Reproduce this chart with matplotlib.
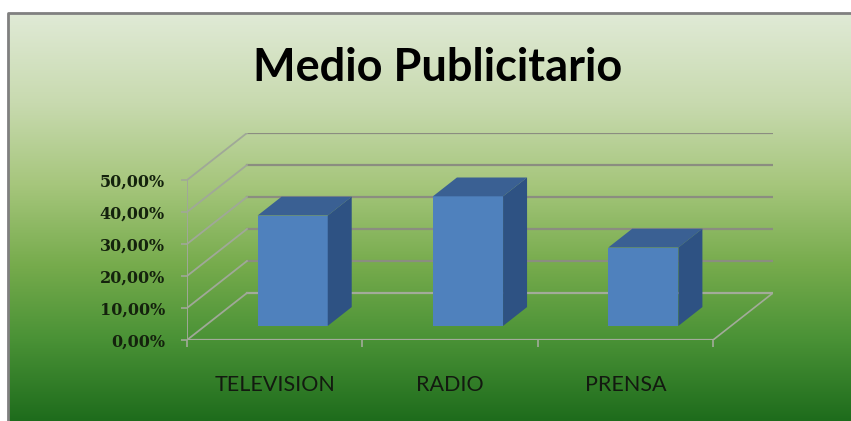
import numpy as np
import matplotlib
matplotlib.use('Agg')
import matplotlib.pyplot as plt
from matplotlib.patches import Polygon
from matplotlib.colors import LinearSegmentedColormap

# data
categories = ['TELEVISION', 'RADIO', 'PRENSA']
values = [34.5, 40.5, 24.5]          # percent
yticks = [0, 10, 20, 30, 40, 50]
ytick_labels = ['0,00%', '10,00%', '20,00%', '30,00%', '40,00%', '50,00%']
title = 'Medio Publicitario'

W, H = 851, 421
fig = plt.figure(figsize=(W / 100, H / 100), dpi=100)

# background: white margin + green vertical gradient
bg = fig.add_axes([0, 0, 1, 1])
bg.set_xlim(0, W)
bg.set_ylim(H, 0)
bg.axis('off')
cmap = LinearSegmentedColormap.from_list('bg', [
    (0.00, '#e0ead6'), (0.22, '#c8daaf'), (0.42, '#a6c67c'),
    (0.62, '#76ab4c'), (0.80, '#4a9236'), (1.00, '#1e6c1c')])
grad = cmap(np.linspace(0, 1, 256))[:, None, :3]
bg.imshow(grad, extent=(8, W, H, 13), aspect='auto', zorder=0)
bg.plot([8, 8, W], [H, 13, 13], color='#808080', lw=2, zorder=1)

# fake 3-D plot area
DX = 0.342      # depth offset in category units
DY = 14.7       # depth offset in percent units
ax = fig.add_axes([187 / W, (H - 340) / H, (773 - 187) / W, (340 - 133) / H])
ax.patch.set_alpha(0)
ax.set_xlim(0, len(categories) + DX)
ax.set_ylim(0, max(yticks) + DY)
for s in ax.spines.values():
    s.set_visible(False)

n = len(categories)
grid_c = '#8b8d80'
floor_c = '#a3ab9a'
wall_c = '#a0a898'
for v in yticks:
    c = floor_c if v == 0 else grid_c
    ax.plot([DX, n + DX], [v + DY, v + DY], color=c, lw=1.6, zorder=1)
    ax.plot([0, DX], [v, v + DY], color=wall_c, lw=1.3, zorder=1)
ax.plot([0, n], [0, 0], color=floor_c, lw=1.6, zorder=1)
ax.plot([n, n + DX], [0, DY], color=floor_c, lw=1.2, zorder=1)
ax.plot([0, 0], [0, max(yticks)], color=wall_c, lw=1.4, zorder=1)

# bars
bw = 0.4
d0, d1 = 0.3, 0.7
front_c, top_c, side_c = '#4f81bd', '#3a6093', '#2e5283'
for i, v in enumerate(values):
    x0 = i + (1 - bw) / 2 + d0 * DX
    x1 = x0 + bw
    y0 = d0 * DY
    ddx = (d1 - d0) * DX
    ddy = (d1 - d0) * DY
    ax.add_patch(Polygon([(x0, y0), (x1, y0), (x1, y0 + v), (x0, y0 + v)],
                         closed=True, fc=front_c, ec='none', zorder=3))
    ax.add_patch(Polygon([(x0, y0 + v), (x1, y0 + v), (x1 + ddx, y0 + v + ddy),
                          (x0 + ddx, y0 + v + ddy)],
                         closed=True, fc=top_c, ec='none', zorder=3))
    ax.add_patch(Polygon([(x1, y0), (x1 + ddx, y0 + ddy), (x1 + ddx, y0 + v + ddy),
                          (x1, y0 + v)],
                         closed=True, fc=side_c, ec='none', zorder=3))

# axes ticks and labels
ax.set_yticks(yticks)
ax.set_yticklabels(ytick_labels, family='DejaVu Serif', weight='bold',
                   fontsize=11.5, color='#14220d')
ax.tick_params(axis='y', length=4, width=1.2, color=wall_c, pad=12)
ax.set_xticks(range(n + 1))
ax.set_xticklabels([])
ax.set_xticks([i + 0.5 for i in range(n)], minor=True)
ax.set_xticklabels(categories, minor=True, family='Lato', fontsize=15.5,
                   color='#131a10')
ax.tick_params(axis='x', which='major', length=5, width=1.2, color=floor_c)
ax.tick_params(axis='x', which='minor', length=0, pad=25)

fig.text(438 / W, 1 - 68 / H, title, ha='center', va='center',
         family='Lato', weight='bold', fontsize=32.5, color='black')

fig.savefig('out.png', dpi=100)
